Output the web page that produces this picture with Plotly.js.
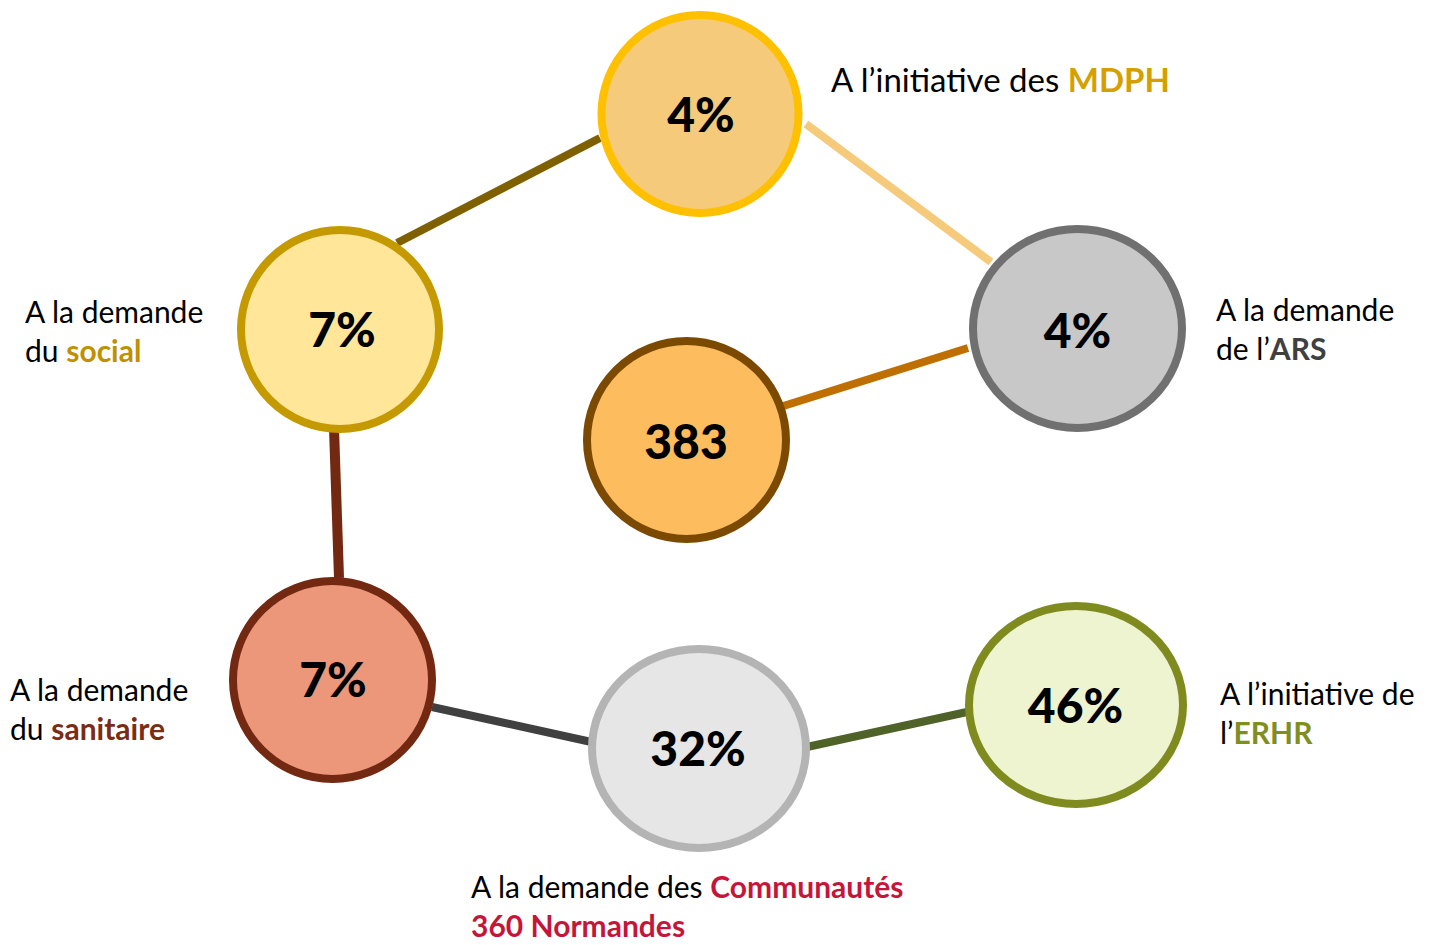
<!DOCTYPE html>
<html>
<head>
<meta charset="utf-8">
<script src="https://cdn.plot.ly/plotly-3.0.1.min.js"></script>
<style>html,body{margin:0;padding:0;background:#fff;}#chart{width:1432px;height:945px;}</style>
</head>
<body>
<div id="chart"></div>
<script>
// ---- data ----
var nodeValues = ['4%', '7%', '4%', '383', '7%', '32%', '46%'];
var labelPlain1 = ['A l\u2019initiative des ', 'A la demande', 'A la demande', 'A la demande', 'A l\u2019initiative de', 'A la demande des '];
var labelPlain2 = ['', 'du ', 'de l\u2019', 'du ', 'l\u2019', ''];
var labelBold1 = ['MDPH', '', '', '', '', 'Communaut\u00e9s'];
var labelBold2 = ['', 'social', 'ARS', 'sanitaire', 'ERHR', '360 Normandes'];

// ---- layout (pixel positions, sizes, styles) ----
var nodeCx = [700, 340, 1077.5, 686.5, 332.5, 699, 1076];
var nodeCy = [114, 329.5, 328.5, 440, 680, 748.5, 705];
var nodeRx = [102.5, 103, 108.5, 103.5, 103.5, 111, 111];
var nodeRy = [103, 103.5, 103.5, 103, 103, 103.5, 103];
var nodeTx = [701, 342, 1077.5, 686, 333, 698, 1075.5];
var nodeTy = [120, 335, 336, 447, 685, 754, 711];
var nodeFill = ['#F5CB7B', '#FFE699', '#C8C8C8', '#FDBC5E', '#EC977A', '#E6E6E6', '#EEF3D0'];
var nodeLine = ['#FFC000', '#C49A00', '#707070', '#7B4A00', '#722811', '#B4B4B4', '#7F8B1E'];
var borderW = 8;

var edgeX0 = [600, 806, 777, 334, 432, 807];
var edgeY0 = [138, 124, 408, 428, 707, 747];
var edgeX1 = [397, 991, 968, 339, 596, 967];
var edgeY1 = [243, 262, 348, 578, 743, 712];
var edgeColor = ['#7F6000', '#F5CB7B', '#BF6F00', '#722811', '#404040', '#4F6228'];
var edgeW = [8, 8, 8, 10, 8, 8];

// label anchors: two-line labels are one annotation each
var labX = [830, 24, 1215, 9, 1219, 470];
var labY = [79, 330, 328, 708, 712, 944];
var labAnchor = ['middle', 'middle', 'middle', 'middle', 'middle', 'bottom'];
var labSize = [33, 30, 30, 30, 30, 30];
var boldColor = ['#D4A000', '#BF9000', '#404040', '#7B2C14', '#7F8F1F', '#C5163A'];

var FONT = 'Lato, "Open Sans", "DejaVu Sans", sans-serif';

var shapes = [];
for (var i = 0; i < edgeX0.length; i++) {
  shapes.push({type: 'line', layer: 'below', xref: 'x', yref: 'y', x0: edgeX0[i], y0: edgeY0[i], x1: edgeX1[i], y1: edgeY1[i],
    line: {color: edgeColor[i], width: edgeW[i]}});
}
for (var j = 0; j < nodeCx.length; j++) {
  var rx = nodeRx[j] - borderW / 2, ry = nodeRy[j] - borderW / 2;
  shapes.push({type: 'circle', layer: 'below', xref: 'x', yref: 'y', x0: nodeCx[j] - rx, x1: nodeCx[j] + rx, y0: nodeCy[j] - ry, y1: nodeCy[j] + ry,
    fillcolor: nodeFill[j], line: {color: nodeLine[j], width: borderW}});
}

function boldPart(s, c) { return s ? '<b><span style="color:' + c + '">' + s + '</span></b>' : ''; }

var annotations = [];
for (var k = 0; k < labX.length; k++) {
  var t = labelPlain1[k] + boldPart(labelBold1[k], boldColor[k]);
  if (labelPlain2[k] || labelBold2[k]) t += '<br>' + labelPlain2[k] + boldPart(labelBold2[k], boldColor[k]);
  annotations.push({xref: 'x', yref: 'y', x: labX[k], y: labY[k], xanchor: 'left', yanchor: labAnchor[k], showarrow: false,
    text: t, align: 'left', borderpad: 0, font: {family: FONT, size: labSize[k], color: '#000'}});
}

var trace = {
  type: 'scatter', mode: 'text', x: nodeTx, y: nodeTy, text: nodeValues,
  textposition: 'middle center', textfont: {family: FONT, size: 48, color: '#000', weight: 900}, hoverinfo: 'skip', showlegend: false,
  cliponaxis: false
};

var layout = {
  width: 1432, height: 945, margin: {l: 0, r: 0, t: 0, b: 0},
  paper_bgcolor: '#fff', plot_bgcolor: 'rgba(0,0,0,0)',
  xaxis: {range: [0, 1432], autorange: false, visible: false, fixedrange: true},
  yaxis: {range: [945, 0], autorange: false, visible: false, fixedrange: true},
  shapes: shapes, annotations: annotations, showlegend: false
};

Plotly.newPlot('chart', [trace], layout, {displayModeBar: false, staticPlot: true});
</script>
</body>
</html>
